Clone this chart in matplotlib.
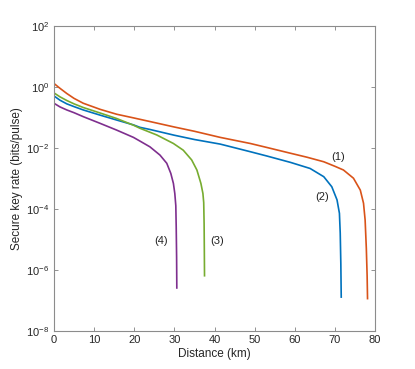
import numpy as np
from matplotlib import pyplot as plt
from matplotlib import ticker

# values: distance (km), log10 of key rate
d1 = [0, 1.5, 3.2, 5, 7.3, 11.5, 15.6, 19.8, 23.9, 30, 35, 41.4, 48.9, 53, 58.9, 63,
      67.2, 70, 72.1, 74.6, 76.3, 77.1, 77.5, 77.8, 78.0, 78.1]
r1 = [0.11, -0.05, -0.22, -0.38, -0.54, -0.74, -0.90, -1.02, -1.14, -1.32, -1.46, -1.66,
      -1.86, -1.99, -2.18, -2.31, -2.46, -2.61, -2.73, -3.0, -3.39, -3.82, -4.37, -5.3,
      -6.2, -6.95]

d2 = [0, 1.5, 3.2, 5, 7.3, 11.5, 15.6, 19.8, 21.4, 23.9, 30, 35, 41.4, 48.9, 53, 58.9,
      63.8, 67.2, 69.2, 70.5, 71.1, 71.3, 71.45, 71.55]
r2 = [-0.3, -0.44, -0.56, -0.65, -0.76, -0.93, -1.09, -1.25, -1.33, -1.40, -1.59, -1.73,
      -1.88, -2.13, -2.27, -2.48, -2.68, -2.95, -3.28, -3.71, -4.15, -4.8, -5.8, -6.9]

d3 = [0, 1.5, 3.2, 5, 7.3, 11.5, 15.6, 19.8, 21.4, 25.6, 29.75, 32.2, 34.3, 35.6, 36.6,
      37.1, 37.3, 37.4, 37.45, 37.5]
r3 = [-0.2, -0.33, -0.45, -0.56, -0.68, -0.86, -1.04, -1.26, -1.36, -1.58, -1.86, -2.08,
      -2.40, -2.73, -3.17, -3.50, -3.8, -4.5, -5.3, -6.2]

d4 = [0, 1.5, 3.2, 5, 7.3, 11.5, 15.6, 19.8, 21.4, 23.9, 26.4, 28.1, 29.1, 29.75, 30.1,
      30.35, 30.45, 30.55, 30.6]
r4 = [-0.54, -0.66, -0.76, -0.85, -0.98, -1.2, -1.42, -1.66, -1.78, -1.97, -2.24, -2.51,
      -2.84, -3.17, -3.50, -3.9, -4.6, -5.6, -6.6]

curves = [(d1, r1, '#D95319'), (d2, r2, '#0072BD'), (d3, r3, '#77AC30'), (d4, r4, '#7E2F8E')]

labels = ['(1)', '(2)', '(3)', '(4)']
label_x = [70.9, 66.9, 40.6, 26.7]
label_y = [5e-3, 2.5e-4, 8.5e-6, 8.5e-6]


def main():
    plt.rcParams['font.family'] = ['Liberation Sans', 'DejaVu Sans']
    fig = plt.figure(figsize=(4.15, 3.69), dpi=100)
    ax = fig.add_axes([0.130, 0.104, 0.774, 0.826])

    for d, r, c in curves:
        ax.plot(d, 10.0 ** np.array(r), color=c, lw=1.2)

    for t, x, y in zip(labels, label_x, label_y):
        ax.text(x, y, t, fontsize=8, ha='center', va='center', color='#222222')

    ax.set_yscale('log')
    ax.set_xlim(0, 80)
    ax.set_ylim(1e-8, 1e2)
    ax.set_xticks(range(0, 81, 10))
    ax.set_yticks([1e-8, 1e-6, 1e-4, 1e-2, 1e0, 1e2])
    ax.yaxis.set_minor_locator(ticker.NullLocator())

    ax.tick_params(direction='in', top=True, right=True, length=3, width=0.6,
                   colors='0.5', labelcolor='#262626', labelsize=8)
    for s in ax.spines.values():
        s.set_color('0.55')
        s.set_linewidth(0.8)

    ax.set_xlabel('Distance (km)', fontsize=8.5, color='#262626', labelpad=2)
    ax.set_ylabel('Secure key rate (bits/pulse)', fontsize=8.5, color='#262626', labelpad=2)

    fig.savefig('out.png', dpi=100)


if __name__ == '__main__':
    main()
